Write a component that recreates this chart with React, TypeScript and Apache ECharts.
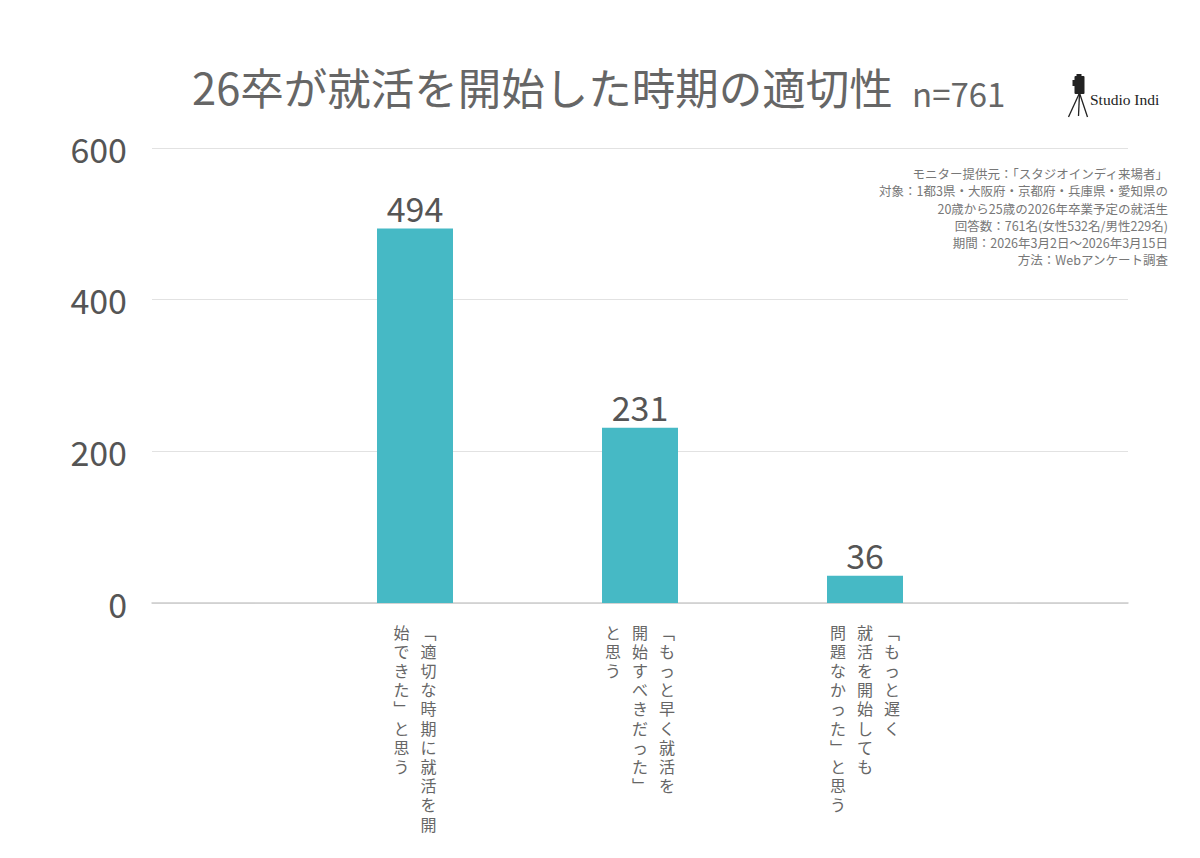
import React, { useEffect, useRef } from "react";
import * as echarts from "echarts";

const titleMain = "26卒が就活を開始した時期の適切性";
const titleN = "n=761";
const categories = [
  "「適切な時期に就活を開始できた」と思う",
  "「もっと早く就活を開始すべきだった」と思う",
  "「もっと遅く就活を開始しても問題なかった」と思う",
];
// vertical columns (right to left reading order)
const categoryColumns = [
  ["「適切な時期に就活を開", "始できた」と思う"],
  ["「もっと早く就活を", "開始すべきだった」", "と思う"],
  ["「もっと遅く", "就活を開始しても", "問題なかった」と思う"],
];
const values = [494, 231, 36];
const yTicks = { min: 0, max: 600, interval: 200 };
const notes = [
  "モニター提供元：「スタジオインディ来場者」",
  "対象：1都3県・大阪府・京都府・兵庫県・愛知県の",
  "20歳から25歳の2026年卒業予定の就活生",
  "回答数：761名(女性532名/男性229名)",
  "期間：2026年3月2日～2026年3月15日",
  "方法：Webアンケート調査",
];
const brandName = "Studio Indi";

const FONT = "'Noto Sans CJK JP', 'Noto Sans', sans-serif";

function verticalize(ch: string): string {
  if (ch === "「") return "﹁";
  if (ch === "」") return "﹂";
  return ch;
}

export default function App() {
  const ref = useRef<HTMLDivElement>(null);
  useEffect(() => {
    if (!ref.current) return;
    const chart = echarts.init(ref.current, null, { renderer: "svg" });
    const formatter = (_v: string, idx: number) => {
      const cols = categoryColumns[idx].map((c) => Array.from(c));
      const maxLen = Math.max(...cols.map((c) => c.length));
      const leftToRight = [...cols].reverse();
      const lines: string[] = [];
      for (let i = 0; i < maxLen; i++) {
        lines.push(
          leftToRight
            .map((c) => `{c|${c[i] !== undefined ? verticalize(c[i]) : "　"}}`)
            .join("")
        );
      }
      return lines.join("\n");
    };
    const option: any = {
      animation: false,
      backgroundColor: "#ffffff",
      textStyle: { fontFamily: FONT },
      title: [
        {
          text: titleMain,
          left: 187,
          top: 60,
          textStyle: { fontSize: 43.5, fontWeight: "normal", color: "#666666", fontFamily: FONT },
        },
        {
          text: titleN,
          left: 907,
          top: 71,
          textStyle: { fontSize: 33, fontWeight: "normal", color: "#666666", fontFamily: FONT },
        },
      ],
      grid: [
        { left: 152, right: 72, top: 148, bottom: 255 },
        { left: 302.5, right: 222.5, top: 148, bottom: 255 },
      ],
      xAxis: [
        {
          gridIndex: 0,
          type: "category",
          data: [""],
          axisLine: { show: true, lineStyle: { color: "#cccccc", width: 1.5 } },
          axisTick: { show: false },
          axisLabel: { show: false },
          splitLine: { show: false },
        },
        {
          gridIndex: 1,
          type: "category",
          data: categories,
          axisLine: { show: false },
          axisTick: { show: false },
          axisLabel: {
            interval: 0,
            margin: 19,
            formatter,
            rich: {
              c: {
                width: 27,
                align: "center",
                fontSize: 16,
                lineHeight: 19.2,
                color: "#666666",
                fontFamily: FONT,
              },
            },
          },
        },
      ],
      yAxis: [
        {
          gridIndex: 0,
          type: "value",
          min: yTicks.min,
          max: yTicks.max,
          interval: yTicks.interval,
          axisLine: { show: false },
          axisTick: { show: false },
          axisLabel: { fontSize: 34, color: "#555555", margin: 25, fontFamily: FONT },
          splitLine: { lineStyle: { color: "#e2e2e2", width: 1 } },
        },
        {
          gridIndex: 1,
          type: "value",
          min: yTicks.min,
          max: yTicks.max,
          interval: yTicks.interval,
          show: false,
          splitLine: { show: false },
        },
      ],
      series: [
        {
          type: "bar",
          xAxisIndex: 1,
          yAxisIndex: 1,
          data: values,
          barWidth: 76,
          itemStyle: { color: "#46B9C5" },
          label: {
            show: true,
            position: "top",
            distance: 4,
            fontSize: 34,
            color: "#555555",
            fontFamily: FONT,
          },
        },
      ],
      graphic: [
        {
          type: "text",
          x: 1168,
          y: 165,
          style: {
            text: notes.join("\n"),
            align: "right",
            textAlign: "right",
            verticalAlign: "top",
            fontSize: 12.5,
            lineHeight: 17.2,
            fill: "#777777",
            fontFamily: FONT,
          },
        },
        {
          type: "group",
          left: 1066,
          top: 74,
          children: [
            { type: "rect", shape: { x: 7, y: 2, width: 10, height: 18, r: 1 }, style: { fill: "#222" } },
            { type: "rect", shape: { x: 9, y: 0, width: 5, height: 4 }, style: { fill: "#222" } },
            { type: "rect", shape: { x: 5, y: 6, width: 3, height: 6 }, style: { fill: "#222" } },
            { type: "line", shape: { x1: 12, y1: 19, x2: 1, y2: 43 }, style: { stroke: "#222", lineWidth: 1.3 } },
            { type: "line", shape: { x1: 12, y1: 19, x2: 20, y2: 43 }, style: { stroke: "#222", lineWidth: 1.3 } },
            { type: "line", shape: { x1: 12, y1: 19, x2: 11, y2: 42 }, style: { stroke: "#222", lineWidth: 1.3 } },
          ],
        },
        {
          type: "text",
          left: 1090,
          top: 91,
          style: {
            text: brandName,
            fontSize: 15.5,
            fill: "#222222",
            fontFamily: "'Liberation Serif', 'DejaVu Serif', serif",
          },
        },
      ],
    };
    chart.setOption(option);
    return () => chart.dispose();
  }, []);
  return (
    <div
      ref={ref}
      style={{ position: "fixed", left: 0, top: 0, width: 1200, height: 858 }}
    />
  );
}
